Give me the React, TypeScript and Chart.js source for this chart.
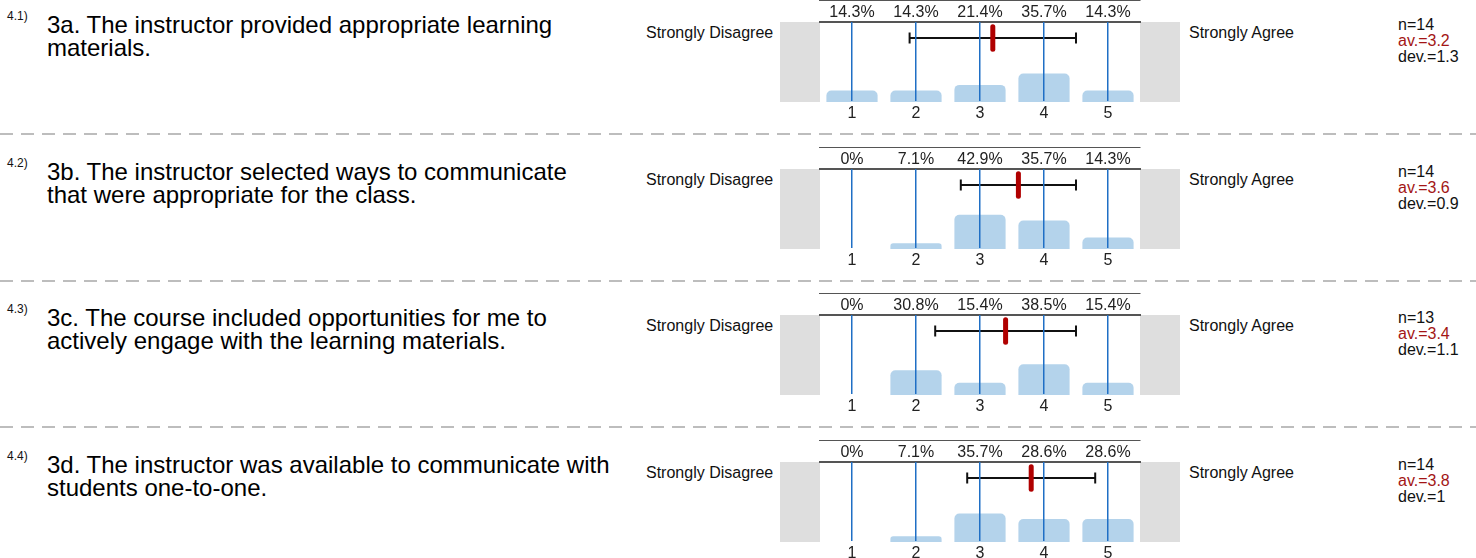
import React, { useEffect, useRef } from 'react';
import { Chart, registerables } from 'chart.js';

Chart.register(...registerables);

const FONT = '"Liberation Sans", Arial, Helvetica, sans-serif';
Chart.defaults.font.family = FONT;
Chart.defaults.font.size = 16;

// ---------- data ----------
const questionNumbers = ['4.1)', '4.2)', '4.3)', '4.4)'];
const questionTexts = [
  ['3a. The instructor provided appropriate learning', 'materials.'],
  ['3b. The instructor selected ways to communicate', 'that were appropriate for the class.'],
  ['3c. The course included opportunities for me to', 'actively engage with the learning materials.'],
  ['3d. The instructor was available to communicate with', 'students one-to-one.'],
];
const scalePoints = [1, 2, 3, 4, 5];
const q1Percents = [14.3, 14.3, 21.4, 35.7, 14.3];
const q2Percents = [0, 7.1, 42.9, 35.7, 14.3];
const q3Percents = [0, 30.8, 15.4, 38.5, 15.4];
const q4Percents = [0, 7.1, 35.7, 28.6, 28.6];
const allPercents = [q1Percents, q2Percents, q3Percents, q4Percents];
const counts = [14, 14, 13, 14];
const averages = [3.2, 3.6, 3.4, 3.8];
const deviations = [1.3, 0.9, 1.1, 1];
const leftPoleLabel = 'Strongly Disagree';
const rightPoleLabel = 'Strongly Agree';

// ---------- style constants ----------
const ROW_PITCH = 146.5;
const MEAN_Y_LOW = 66;
const MEAN_Y_HIGH = 94;
const DEV_Y = 80;

const greyBoxes = {
  id: 'greyBoxes',
  beforeDraw(chart: any) {
    const { ctx, chartArea: a } = chart;
    ctx.save();
    ctx.fillStyle = '#dedede';
    ctx.fillRect(a.left - 40, a.top, 40, a.bottom - a.top);
    ctx.fillRect(a.right, a.top, 40, a.bottom - a.top);
    ctx.restore();
  },
};

function RowChart({ percents, avg, dev }: { percents: number[]; avg: number; dev: number }) {
  const ref = useRef<HTMLCanvasElement>(null);
  useEffect(() => {
    if (!ref.current) return;
    const chart = new Chart(ref.current, {
      type: 'bar',
      data: {
        datasets: [
          {
            type: 'line',
            data: [
              { x: avg, y: MEAN_Y_LOW },
              { x: avg, y: MEAN_Y_HIGH },
            ],
            borderColor: '#b00000',
            borderWidth: 5,
            borderCapStyle: 'round',
            pointRadius: 0,
            order: 0,
            clip: false,
          } as any,
          {
            type: 'line',
            data: [
              { x: avg - dev, y: DEV_Y },
              { x: avg + dev, y: DEV_Y },
            ],
            borderColor: '#111',
            borderWidth: 2,
            pointStyle: 'line',
            pointRotation: 90,
            pointRadius: 5.5,
            pointBorderWidth: 2,
            pointBorderColor: '#111',
            pointBackgroundColor: '#111',
            order: 1,
            clip: false,
          } as any,
          {
            type: 'bar',
            data: scalePoints.map((s, i) => ({ x: s, y: percents[i] })),
            backgroundColor: '#b4d3eb',
            borderRadius: { topLeft: 5, topRight: 5, bottomLeft: 0, bottomRight: 0 },
            borderSkipped: 'start',
            barPercentage: 1,
            categoryPercentage: 0.8,
            order: 2,
          } as any,
        ],
      },
      options: {
        animation: false,
        responsive: false,
        events: [],
        layout: { padding: { left: 60, right: 40, top: 0, bottom: 0 } },
        plugins: { legend: { display: false }, tooltip: { enabled: false } },
        scales: {
          x: {
            type: 'linear',
            position: 'bottom',
            min: 0.5,
            max: 5.5,
            offset: false,
            afterBuildTicks: (s: any) => {
              s.ticks = scalePoints.map((v) => ({ value: v }));
            },
            afterFit: (s: any) => {
              s.height = 22;
            },
            grid: { color: '#1f6fc5', lineWidth: 1.5, drawTicks: false, offset: false, z: 1 },
            border: { display: true, color: '#555', width: 2 },
            ticks: {
              padding: 2,
              font: { family: FONT, size: 16 },
              color: '#222',
              autoSkip: false,
              maxRotation: 0,
              callback: (v: any) => String(v),
            },
          },
          xTop: {
            type: 'category',
            position: 'top',
            labels: percents.map((p) => `${p}%`),
            offset: true,
            afterFit: (s: any) => {
              s.height = 22;
            },
            grid: { display: false, drawTicks: false },
            border: { display: true, color: '#555', width: 2 },
            ticks: { padding: 0, font: { family: FONT, size: 16 }, color: '#222', autoSkip: false, maxRotation: 0 },
          },
          y: { type: 'linear', min: 0, max: 100, display: false },
        },
      } as any,
      plugins: [greyBoxes],
    });
    return () => chart.destroy();
  }, [percents, avg, dev]);
  return <canvas ref={ref} width={420} height={124} style={{ display: 'block', width: 420, height: 124 }} />;
}

export default function App() {
  return (
    <div
      style={{
        position: 'absolute',
        left: 0,
        top: 0,
        width: 1476,
        height: 558,
        background: '#fff',
        fontFamily: FONT,
        color: '#111',
        overflow: 'hidden',
      }}
    >
      {questionTexts.map((lines, k) => {
        const top = Math.round(k * ROW_PITCH);
        return (
          <React.Fragment key={k}>
            <div style={{ position: 'absolute', left: 7, top: top + 10, fontSize: 12, lineHeight: '13px' }}>
              {questionNumbers[k]}
            </div>
            <div
              style={{
                position: 'absolute',
                left: 47,
                top: top + 13,
                fontSize: 24,
                lineHeight: '23px',
                whiteSpace: 'nowrap',
                color: '#000',
              }}
            >
              {lines[0]}
              <br />
              {lines[1]}
            </div>
            <div style={{ position: 'absolute', left: 646, top: top + 23, fontSize: 16, lineHeight: '19px', whiteSpace: 'nowrap' }}>
              {leftPoleLabel}
            </div>
            <div style={{ position: 'absolute', left: 760, top }}>
              <RowChart percents={allPercents[k]} avg={averages[k]} dev={deviations[k]} />
            </div>
            <div style={{ position: 'absolute', left: 1189, top: top + 23, fontSize: 16, lineHeight: '19px', whiteSpace: 'nowrap' }}>
              {rightPoleLabel}
            </div>
            <div style={{ position: 'absolute', left: 1398, top: top + 17, fontSize: 16, lineHeight: '16px', whiteSpace: 'nowrap' }}>
              <div>n={counts[k]}</div>
              <div style={{ color: '#a31515' }}>av.={averages[k]}</div>
              <div>dev.={deviations[k]}</div>
            </div>
            {k < 3 && (
              <svg width={1476} height={4} style={{ position: 'absolute', left: 0, top: top + 132 }}>
                <line x1={0} y1={2} x2={1476} y2={2} stroke="#bdbdbd" strokeWidth={2} strokeDasharray="13 8" />
              </svg>
            )}
          </React.Fragment>
        );
      })}
    </div>
  );
}
